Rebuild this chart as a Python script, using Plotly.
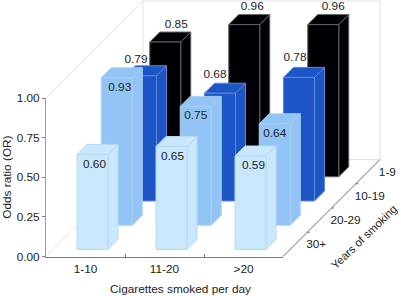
import plotly.graph_objects as go

cigarettes = ["1-10", "11-20", ">20"]
years = ["30+", "20-29", "10-19", "1-9"]          # front to back
or_30 = [0.60, 0.65, 0.59]
or_20 = [0.93, 0.75, 0.64]
or_10 = [0.79, 0.68, 0.78]
or_1 = [0.85, 0.96, 0.96]
series = [or_30, or_20, or_10, or_1]
fills = ["#c9e7fd", "#92c5f5", "#1c55c5", "#000004"]
edges = ["#b9d9ee", "#a9d0f2", "#6287d2", "#5f6468"]

W, H = 401, 296
L, R, T, B = 46, 283, 98, 256.5
UX = (R - L) / 3            # px per category
UY = B - T                  # px per 1.0 OR
ROW = 24.25                 # px depth per row
BAR_W = 31 / UX
MARGIN = (1 - BAR_W) / 2
D0, D1 = 7 / ROW, 17 / ROW  # bar depth range inside a row (row units)
FS = 11.8
INK = "#222222"


def proj(x, d, z):
    """oblique projection: x category units, d row units, z odds ratio"""
    return x + d * ROW / UX, z + d * ROW / UY


def poly(points, fill, line, width=1.0):
    xs, ys = zip(*[proj(*p) for p in points])
    return go.Scatter(x=list(xs) + [xs[0]], y=list(ys) + [ys[0]], mode="lines", xaxis="x2", yaxis="y2",
                      fill="toself", fillcolor=fill, line=dict(color=line, width=width),
                      hoverinfo="skip", showlegend=False)


def seg(a, b, color, width=1.0):
    xa, ya = proj(*a)
    xb, yb = proj(*b)
    return go.Scatter(x=[xa, xb], y=[ya, yb], mode="lines", line=dict(color=color, width=width),
                      xaxis="x2", yaxis="y2", hoverinfo="skip", showlegend=False)


def label(x, y, text, pos="middle center"):
    return go.Scatter(x=[x], y=[y], mode="text", text=[text], textposition=pos,
                      textfont=dict(family="Liberation Sans", size=FS, color=INK),
                      xaxis="x2", yaxis="y2", hoverinfo="skip", showlegend=False, cliponaxis=False)


fig = go.Figure()
nr = len(years)
nc = len(cigarettes)
WALL = "#dbe3e6"
# keeps the visible axes alive
fig.add_trace(go.Scatter(x=[0], y=[0], mode="markers", marker=dict(opacity=0), hoverinfo="skip", showlegend=False))
# back wall + floor guide lines
fig.add_trace(seg((0, 0, 0), (0, nr, 0), WALL))
fig.add_trace(seg((0, 0, 1), (0, nr, 1), WALL))
fig.add_trace(seg((0, nr, 0), (0, nr, 1), WALL))
fig.add_trace(seg((0, nr, 1), (nc, nr, 1), WALL))
fig.add_trace(seg((nc, nr, 1), (nc, nr, 0), WALL))
fig.add_trace(seg((0, nr, 0), (nc, nr, 0), WALL))
# right floor edge with ticks
fig.add_trace(seg((nc, 0, 0), (nc, nr, 0), "#6c7072"))
for r in range(1, nr):
    fig.add_trace(seg((nc, r, 0), (nc + 2.5 / UX, r, 0), "#6c7072"))

# bars back to front
for r in range(nr - 1, -1, -1):
    for c in range(nc):
        z = series[r][c]
        x0 = c + MARGIN
        x1 = x0 + BAR_W
        d0, d1 = r + D0, r + D1
        f, e = fills[r], edges[r]
        fig.add_trace(poly([(x1, d0, 0), (x1, d1, 0), (x1, d1, z), (x1, d0, z)], f, e))
        fig.add_trace(poly([(x0, d0, z), (x1, d0, z), (x1, d1, z), (x0, d1, z)], f, e))
        fig.add_trace(poly([(x0, d0, 0), (x1, d0, 0), (x1, d0, z), (x0, d0, z)], f, e))

# value labels: offset from the top of the bar (px), per row
label_dx = [[2, 1, 3], [3, 0, 0], [-5, -5, -4], [11, 8, 10]]
label_dy = [[-10.5, -10.5, -10], [-10, -10, -10], [16, 18, 19], [17, 18, 18]]
for r in range(nr):
    for c in range(nc):
        z = series[r][c]
        xc = c + 0.5 + label_dx[r][c] / UX
        zt = z + label_dy[r][c] / UY
        x, y = proj(xc, r + D0, zt)
        fig.add_trace(label(x, y, f"{z:.2f}"))

# depth axis labels, left aligned just off the floor edge
for r, name in enumerate(years):
    x, y = proj(nc + 11 / UX, r + 0.5, -1 / UY)
    fig.add_trace(label(x, y, name, "middle right"))


def px(v):
    return (v - L) / UX


def py(v):
    return (B - v) / UY


TXT = dict(family="Liberation Sans", size=FS, color=INK)
fig.add_annotation(x=px(180), y=py(289), xref="x2", yref="y2", text="Cigarettes smoked per day",
                   showarrow=False, font=TXT)
fig.add_annotation(x=px(364), y=py(237), xref="x2", yref="y2", text="Years of smoking", textangle=-44,
                   showarrow=False, font=dict(family="Liberation Sans", size=11.3, color=INK))
fig.add_annotation(x=px(7.5), y=0.5, xref="x2", yref="y2", text="Odds ratio (OR)", textangle=-90,
                   showarrow=False, font=TXT)

fig.update_layout(
    width=W, height=H, autosize=False,
    margin=dict(l=0, r=0, t=0, b=0, pad=0, autoexpand=False),
    paper_bgcolor="white", plot_bgcolor="rgba(0,0,0,0)", showlegend=False,
    font=TXT,
    xaxis=dict(domain=[L / W, R / W], anchor="y", range=[0, nc], showgrid=False, zeroline=False, showline=True,
               linecolor="#7b7b7b", linewidth=1,
               tickmode="array", tickvals=[0.5, 1.5, 2.5], ticktext=cigarettes,
               ticks="outside", ticklen=1, tickcolor="rgba(0,0,0,0)", tickwidth=1,
               minor=dict(tickmode="array", tickvals=[1, 2], ticks="inside", ticklen=3, tickcolor="#7b7b7b",
                          showgrid=False),
               fixedrange=True),
    yaxis=dict(domain=[(H - B) / H, (H - T) / H], anchor="x", range=[0, 1], showgrid=False, zeroline=False,
               showline=True, linecolor="#9a9a9a", linewidth=1,
               tickmode="array", tickvals=[0, 0.25, 0.5, 0.75, 1.0],
               ticktext=["0.00", "0.25", "0.50", "0.75", "1.00"],
               ticks="outside", ticklen=3, tickcolor="#7b7b7b", tickwidth=1,
               fixedrange=True),
    xaxis2=dict(domain=[0, 1], anchor="y2", range=[px(0), px(W)], visible=False, fixedrange=True),
    yaxis2=dict(domain=[0, 1], anchor="x2", range=[py(H), py(0)], visible=False, fixedrange=True),
)
fig.write_html("out.html", config={"displayModeBar": False},
               post_script="document.body.style.margin='0';document.body.style.overflow='hidden';")
